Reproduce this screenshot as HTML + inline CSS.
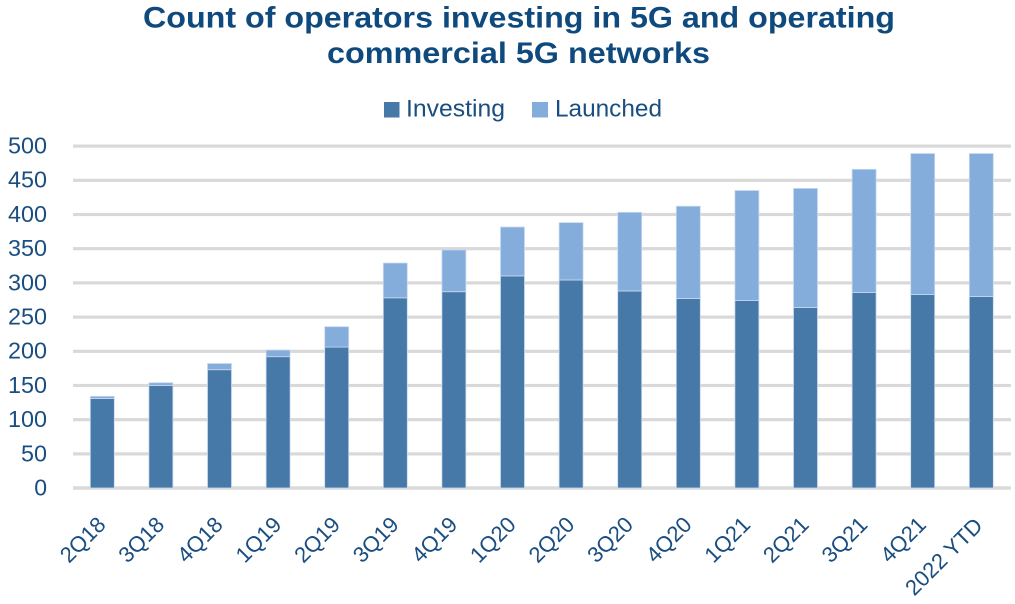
<!DOCTYPE html>
<html>
<head>
<meta charset="utf-8">
<style>
html,body{margin:0;padding:0;background:#fff;}
svg{display:block;}
text{font-family:"Liberation Sans", sans-serif;}
</style>
</head>
<body>
<svg width="1015" height="604" viewBox="0 0 1015 604" xmlns="http://www.w3.org/2000/svg">
  <rect x="0" y="0" width="1015" height="604" fill="#ffffff"/>
  <!-- Title -->
  <text x="519" y="27.5" text-anchor="middle" font-size="30" font-weight="bold" fill="#0f4a7e" textLength="752" lengthAdjust="spacingAndGlyphs">Count of operators investing in 5G and operating</text>
  <text x="518.5" y="63" text-anchor="middle" font-size="30" font-weight="bold" fill="#0f4a7e" textLength="383" lengthAdjust="spacingAndGlyphs">commercial 5G networks</text>
  <!-- Legend -->
  <rect x="384" y="102" width="15.5" height="15.5" fill="#4779a8"/>
  <text x="406" y="116.7" font-size="24" fill="#1a4e80" textLength="99" lengthAdjust="spacingAndGlyphs">Investing</text>
  <rect x="532" y="102" width="16" height="15.5" fill="#85addb"/>
  <text x="555" y="116.7" font-size="24" fill="#1a4e80" textLength="107" lengthAdjust="spacingAndGlyphs">Launched</text>
  <!-- Gridlines -->
  <g fill="#d9d9d9">
    <rect x="73" y="144.5" width="938" height="3.2"/>
    <rect x="73" y="178.7" width="938" height="3.2"/>
    <rect x="73" y="212.9" width="938" height="3.2"/>
    <rect x="73" y="247.1" width="938" height="3.2"/>
    <rect x="73" y="281.3" width="938" height="3.2"/>
    <rect x="73" y="315.5" width="938" height="3.2"/>
    <rect x="73" y="349.7" width="938" height="3.2"/>
    <rect x="73" y="383.9" width="938" height="3.2"/>
    <rect x="73" y="418.1" width="938" height="3.2"/>
    <rect x="73" y="452.3" width="938" height="3.2"/>
    <rect x="73" y="486.3" width="938" height="3.4"/>
  </g>
  <!-- Y labels -->
  <g font-size="23" fill="#1a4e80" text-anchor="end">
    <text x="47" y="153.5" textLength="39" lengthAdjust="spacingAndGlyphs">500</text>
    <text x="47" y="187.7" textLength="39" lengthAdjust="spacingAndGlyphs">450</text>
    <text x="47" y="221.9" textLength="39" lengthAdjust="spacingAndGlyphs">400</text>
    <text x="47" y="256.1" textLength="39" lengthAdjust="spacingAndGlyphs">350</text>
    <text x="47" y="290.3" textLength="39" lengthAdjust="spacingAndGlyphs">300</text>
    <text x="47" y="324.5" textLength="39" lengthAdjust="spacingAndGlyphs">250</text>
    <text x="47" y="358.7" textLength="39" lengthAdjust="spacingAndGlyphs">200</text>
    <text x="47" y="392.9" textLength="39" lengthAdjust="spacingAndGlyphs">150</text>
    <text x="47" y="427.1" textLength="39" lengthAdjust="spacingAndGlyphs">100</text>
    <text x="47" y="461.3" textLength="26" lengthAdjust="spacingAndGlyphs">50</text>
    <text x="47" y="495.5">0</text>
  </g>
  <!-- Bars -->
  <g stroke="#c9daef" stroke-width="0.8">
    <rect x="90.3" y="398.4" width="24" height="89.6" fill="#4779a8"/>
    <rect x="90.3" y="396.3" width="24" height="2.1" fill="#85addb"/>

    <rect x="148.9" y="385.4" width="24" height="102.6" fill="#4779a8"/>
    <rect x="148.9" y="382.7" width="24" height="2.7" fill="#85addb"/>

    <rect x="207.5" y="369.7" width="24" height="118.3" fill="#4779a8"/>
    <rect x="207.5" y="363.5" width="24" height="6.2" fill="#85addb"/>

    <rect x="266.1" y="356.7" width="24" height="131.3" fill="#4779a8"/>
    <rect x="266.1" y="350" width="24" height="6.7" fill="#85addb"/>

    <rect x="324.7" y="347.1" width="24" height="140.9" fill="#4779a8"/>
    <rect x="324.7" y="326.7" width="24" height="20.4" fill="#85addb"/>

    <rect x="383.3" y="297.8" width="24" height="190.2" fill="#4779a8"/>
    <rect x="383.3" y="263" width="24" height="34.8" fill="#85addb"/>

    <rect x="441.9" y="291.7" width="24" height="196.3" fill="#4779a8"/>
    <rect x="441.9" y="249.9" width="24" height="41.8" fill="#85addb"/>

    <rect x="500.5" y="275.9" width="24" height="212.1" fill="#4779a8"/>
    <rect x="500.5" y="227" width="24" height="48.9" fill="#85addb"/>

    <rect x="559.1" y="280" width="24" height="208" fill="#4779a8"/>
    <rect x="559.1" y="222.6" width="24" height="57.4" fill="#85addb"/>

    <rect x="617.7" y="291" width="24" height="197" fill="#4779a8"/>
    <rect x="617.7" y="212.3" width="24" height="78.7" fill="#85addb"/>

    <rect x="676.3" y="298.5" width="24" height="189.5" fill="#4779a8"/>
    <rect x="676.3" y="206.2" width="24" height="92.3" fill="#85addb"/>

    <rect x="734.9" y="300.6" width="24" height="187.4" fill="#4779a8"/>
    <rect x="734.9" y="190.5" width="24" height="110.1" fill="#85addb"/>

    <rect x="793.5" y="307.4" width="24" height="180.6" fill="#4779a8"/>
    <rect x="793.5" y="188.4" width="24" height="119" fill="#85addb"/>

    <rect x="852.1" y="292.4" width="24" height="195.6" fill="#4779a8"/>
    <rect x="852.1" y="169.3" width="24" height="123.1" fill="#85addb"/>

    <rect x="910.7" y="294.4" width="24" height="193.6" fill="#4779a8"/>
    <rect x="910.7" y="153.5" width="24" height="140.9" fill="#85addb"/>

    <rect x="969.3" y="296.5" width="24" height="191.5" fill="#4779a8"/>
    <rect x="969.3" y="153.5" width="24" height="143" fill="#85addb"/>
  </g>
  <!-- X labels -->
  <g font-size="22" fill="#1a4e80" text-anchor="end">
    <text transform="translate(107,526) rotate(-45)">2Q18</text>
    <text transform="translate(165.6,526) rotate(-45)">3Q18</text>
    <text transform="translate(224.2,526) rotate(-45)">4Q18</text>
    <text transform="translate(282.8,526) rotate(-45)">1Q19</text>
    <text transform="translate(341.4,526) rotate(-45)">2Q19</text>
    <text transform="translate(400,526) rotate(-45)">3Q19</text>
    <text transform="translate(458.6,526) rotate(-45)">4Q19</text>
    <text transform="translate(517.2,526) rotate(-45)">1Q20</text>
    <text transform="translate(575.8,526) rotate(-45)">2Q20</text>
    <text transform="translate(634.4,526) rotate(-45)">3Q20</text>
    <text transform="translate(693,526) rotate(-45)">4Q20</text>
    <text transform="translate(751.6,526) rotate(-45)">1Q21</text>
    <text transform="translate(810.2,526) rotate(-45)">2Q21</text>
    <text transform="translate(868.8,526) rotate(-45)">3Q21</text>
    <text transform="translate(927.4,526) rotate(-45)">4Q21</text>
    <text transform="translate(984,527) rotate(-45)">2022 YTD</text>
  </g>
</svg>
</body>
</html>
